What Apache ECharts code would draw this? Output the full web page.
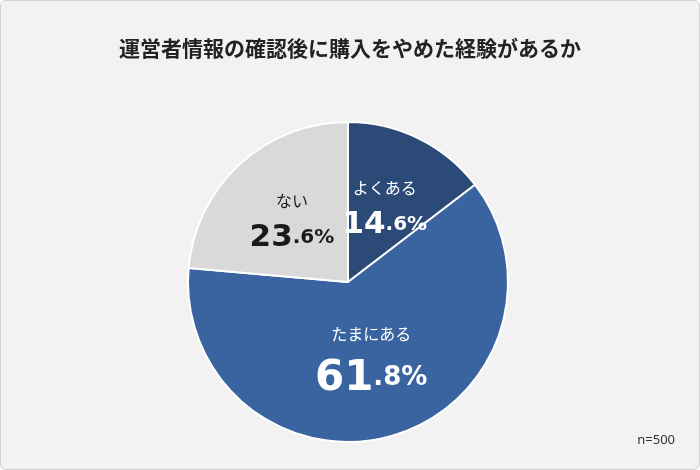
<!DOCTYPE html>
<html><head><meta charset="utf-8">
<script src="https://cdn.jsdelivr.net/npm/echarts@6/dist/echarts.min.js"></script>
<style>html,body{margin:0;padding:0;background:#fff}
#c{width:698px;height:468px;border:1px solid #d0d0d0;border-radius:6px;background:#f2f2f2;overflow:hidden}</style>
</head><body><div id="c"></div>
<script>
const categories=['よくある','たまにある','ない'];
const values=[14.6,61.8,23.6];
const colors=['#2c4a78','#3a64a0','#d9d9d9'];
const note='n=500';
const F='Verdana,DejaVu Sans';
function rich(c){return {
  n:{fontSize:16,color:c,fontFamily:'Noto Sans CJK JP',lineHeight:34},
  m:{fontSize:31,fontWeight:'bold',fontFamily:F,color:c,lineHeight:40},
  ms:{fontSize:20,fontWeight:'bold',fontFamily:F,color:c,lineHeight:40},
  b:{fontSize:42,fontWeight:'bold',fontFamily:F,color:c,lineHeight:56},
  bs:{fontSize:26,fontWeight:'bold',fontFamily:F,color:c,lineHeight:56}};}
const chart=echarts.init(document.getElementById('c'));
chart.setOption({
  animation:false,
  title:{text:'運営者情報の確認後に購入をやめた経験があるか',left:'center',top:32,
    textStyle:{fontSize:21,fontWeight:'bold',color:'#222',fontFamily:'Noto Sans CJK JP'}},
  graphic:[{type:'text',right:24,bottom:22,style:{text:note,fontSize:13,fill:'#333',fontFamily:'Noto Sans'}}],
  series:[{type:'pie',center:[347,281],radius:[0,160],startAngle:90,clockwise:true,
    avoidLabelOverlap:false,
    itemStyle:{borderColor:'#fff',borderWidth:2},
    label:{show:true,position:'inside',
      formatter:p=>{const s=p.value.toFixed(1).split('.');const k=p.dataIndex===1?'b':'m';
        return '{n|'+p.name+'}\n{'+k+'|'+s[0]+'}{'+k+'s|.'+s[1]+'%}';}},
    labelLine:{show:false},
    data:categories.map((n,i)=>({name:n,value:values[i],itemStyle:{color:colors[i]},
      label:{rich:rich(i===2?'#1a1a1a':'#ffffff')}}))
  }]
});
</script></body></html>
